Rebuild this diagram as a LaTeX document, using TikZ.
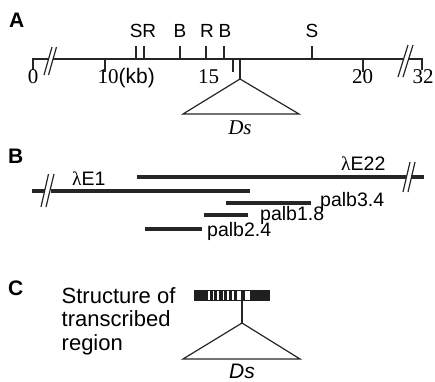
\documentclass[tikz,border=0pt]{standalone}
\usepackage{fontspec}
\setmainfont{Liberation Serif}
\setsansfont{Liberation Sans}
\begin{document}
\begin{tikzpicture}[x=1pt,y=-1pt,
  thin line/.style={line width=1.2pt,black!85},
  thick line/.style={line width=3.4pt,black!85},
  panel/.style={font=\fontsize{21}{23}\selectfont\sffamily\bfseries,inner sep=0pt,anchor=base west},
  site/.style={font=\fontsize{19}{21}\selectfont\sffamily,inner sep=0pt,anchor=base},
  num/.style={font=\fontsize{21}{23}\selectfont\rmfamily,inner sep=0pt,anchor=base},
  clone/.style={font=\fontsize{19.5}{21}\selectfont\sffamily,inner sep=0pt,anchor=base west},
  ctext/.style={font=\fontsize{22}{24}\selectfont\sffamily,inner sep=0pt,anchor=base west}]
\useasboundingbox (0,0) rectangle (435,381);

% ---------- Panel A ----------
\node[panel] (A) at (9,27) {A};
\coordinate (a0) at (33,59);
\coordinate (a0d) at (33,70);
\coordinate (b1) at (48.6,59);
\coordinate (b2) at (52.6,59);
\coordinate (b3) at (403.6,59);
\coordinate (b4) at (408.6,59);
\coordinate (a32) at (422,59);
\coordinate (a32d) at (422,70);
\draw[thin line] (a0d) -- (a0) -- (b1);
\draw[thin line] (b2) -- (b3);
\draw[thin line] (b4) -- (a32) -- (a32d);
% break marks
\draw[thin line] (44,75) -- (52,47);
\draw[thin line] (48.5,75) -- (56.5,47);
\draw[thin line] (398,77) -- (408,45);
\draw[thin line] (403,77) -- (413,45);
% restriction sites
\foreach \x in {136,144,180,206,224,312} \draw[thin line] (\x,59) -- (\x,46);
% scale ticks
\foreach \x in {105,233,363} \draw[thin line] (\x,59) -- (\x,72);
\coordinate (apexA) at (240,79);
\draw[thin line] (240,59) -- (apexA);
\coordinate (tlA) at (183,114);
\coordinate (trA) at (299,114);
\draw[thin line] (apexA) -- (tlA) -- (trA) -- cycle;
\node[num,font=\fontsize{21}{23}\selectfont\rmfamily\itshape] (DsA) at (240,134) {Ds};
% site labels
\node[site] (sr) at (143,37) {SR};
\node[site] (bb1) at (180,37) {B};
\node[site] (rr) at (207,37) {R};
\node[site] (bb2) at (225,37) {B};
\node[site] (ss) at (312,37) {S};
% numbers
\node[num] (n0) at (33,83) {0};
\node[num,anchor=base west] (n10) at (97.5,83) {10\textsf{(kb)}};
\node[num] (n15) at (208.5,83) {15};
\node[num] (n20) at (362.5,83) {20};
\node[num] (n32) at (423,83) {32};

% ---------- Panel B ----------
\node[panel] (B) at (8,163) {B};
\coordinate (e22s) at (137,177);
\coordinate (e22b1) at (406,177);
\coordinate (e22b2) at (411,177);
\coordinate (e22e) at (424,177);
\draw[thick line] (e22s) -- (e22b1);
\draw[thick line] (e22b2) -- (e22e);
\draw[thin line] (403,192) -- (410,162);
\draw[thin line] (408,192) -- (415,162);
\coordinate (e1s) at (32,191);
\coordinate (e1b1) at (44.5,191);
\coordinate (e1b2) at (51,191);
\coordinate (e1e) at (250,191);
\draw[thick line] (e1s) -- (e1b1);
\draw[thick line] (e1b2) -- (e1e);
\draw[thin line] (41,207) -- (48.5,174);
\draw[thin line] (46,207) -- (54,174);
\node[clone] (lE1) at (72,185) {\rmfamily λ\sffamily E1};
\node[clone] (lE22) at (341,170) {\rmfamily λ\sffamily E22};
\coordinate (p34s) at (226,203);
\coordinate (p34e) at (311,203);
\draw[thick line] (p34s) -- (p34e);
\node[clone] (p34) at (320,206.5) {palb3.4};
\coordinate (p18s) at (204,215);
\coordinate (p18e) at (248,215);
\draw[thick line] (p18s) -- (p18e);
\node[clone] (p18) at (260,220.5) {palb1.8};
\coordinate (p24s) at (145,229);
\coordinate (p24e) at (202,229);
\draw[thick line] (p24s) -- (p24e);
\node[clone] (p24) at (207,236) {palb2.4};

% ---------- Panel C ----------
\node[panel] (C) at (8,295) {C};
\node[ctext] (t1) at (61.5,303) {Structure of};
\node[ctext] (t2) at (61.5,326.5) {transcribed};
\node[ctext] (t3) at (61.5,350) {region};
% gene structure
\fill[black!88] (194,289.5) rectangle (270,301);
\foreach \a/\b in {208.3/210,212.7/214.3,217.3/218.7,222.7/224.3,227.3/229,232.3/234,236.7/241.3,245/249.5}
  \fill[white] (\a,290.5) rectangle (\b,300);
\coordinate (stemtop) at (242,301);
\coordinate (apexC) at (242,323);
\draw[thin line] (stemtop) -- (apexC);
\coordinate (tlC) at (183,359);
\coordinate (trC) at (300,359);
\draw[thin line] (apexC) -- (tlC) -- (trC) -- cycle;
\node[inner sep=0pt,anchor=base,font=\fontsize{21}{23}\selectfont\sffamily\itshape] (DsC) at (242,378) {Ds};
\end{tikzpicture}
\end{document}
